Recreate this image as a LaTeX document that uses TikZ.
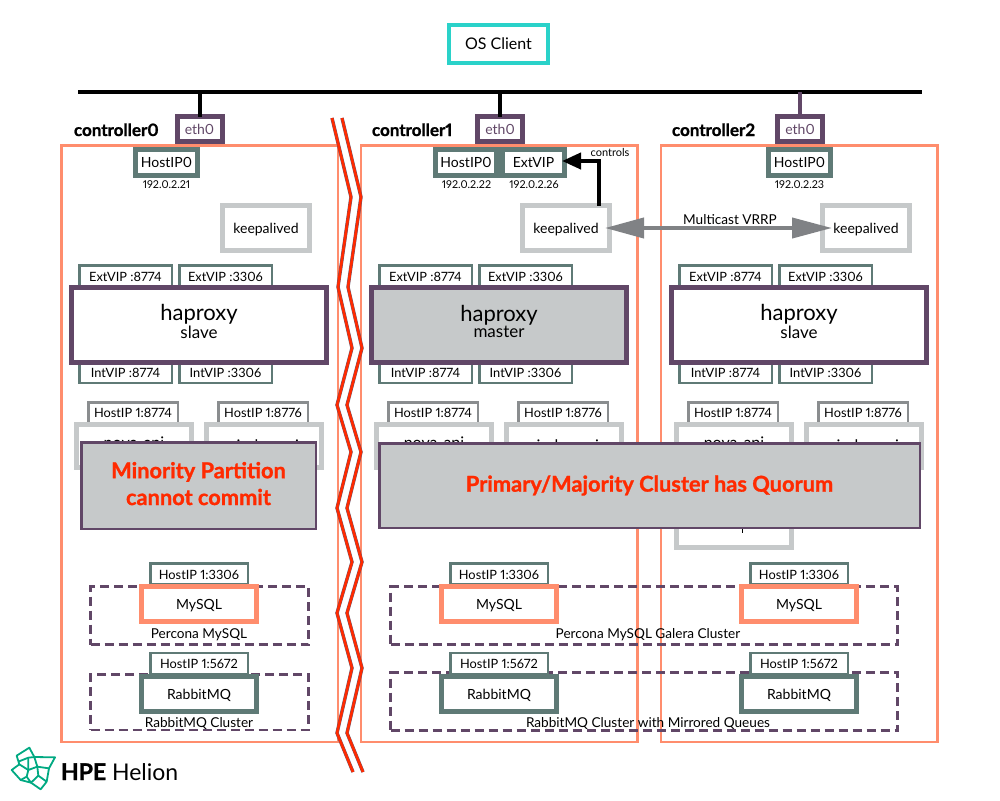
\documentclass[tikz,border=0pt]{standalone}
\usepackage{fontspec}
\setmainfont{Lato}[Numbers=Proportional]
\usetikzlibrary{arrows.meta}
\definecolor{teal}{HTML}{5F7A76}
\definecolor{plum}{HTML}{614767}
\definecolor{salmon}{HTML}{FF8D6D}
\definecolor{lgray}{HTML}{C6C9CA}
\definecolor{mgray}{HTML}{8A8D8F}
\definecolor{agray}{HTML}{808285}
\definecolor{cyanb}{HTML}{2AD2C9}
\definecolor{redt}{HTML}{FF2A00}
\definecolor{logog}{HTML}{01A982}
\newcommand{\fs}[1]{\fontsize{#1}{#1}\selectfont}
\tikzset{
  every node/.style={inner sep=0pt,outer sep=0pt,text=black},
  base/.style={rectangle,fill=white,text height=11pt,text depth=0.5pt},
  ctrl/.style={draw=salmon,line width=2.5pt,minimum width=276.5pt,minimum height=596.5pt},
  ethbox/.style={base,draw=plum,line width=5pt,minimum width=45pt,minimum height=25pt,font=\fs{14},text=plum},
  hostzero/.style={base,draw=teal,line width=5pt,minimum width=62pt,minimum height=26pt,font=\fs{14}},
  keepbox/.style={base,draw=lgray,line width=5pt,minimum width=87pt,minimum height=45pt,font=\fs{14}},
  vipbox/.style={base,draw=teal,line width=2.5pt,minimum width=92.5pt,minimum height=21pt,font=\fs{12.8}},
  hapbox/.style={rectangle,draw=plum,line width=5pt,minimum width=255pt,minimum height=75pt,align=center},
  hostone/.style={base,draw=mgray,line width=2.5pt,minimum width=89.5pt,minimum height=20.5pt,font=\fs{12.8}},
  apibox/.style={rectangle,fill=white,draw=lgray,line width=5pt,minimum width=115pt,minimum height=43pt},
  svcport/.style={base,draw=teal,line width=2.5pt,minimum width=97.5pt,minimum height=21pt,font=\fs{12.8}},
  sqlbox/.style={base,draw=salmon,line width=5pt,minimum width=115pt,minimum height=35pt,font=\fs{14}},
  rabbox/.style={base,draw=teal,line width=5pt,minimum width=115pt,minimum height=35pt,font=\fs{14}},
  dashbox/.style={rectangle,draw=plum,line width=2.5pt,dash pattern=on 9pt off 5pt},
  ctlabel/.style={anchor=base west,font=\fs{17}\bfseries\addfontfeature{FakeBold=1.2}},
  iplabel/.style={font=\fs{10.8}},
  clabel/.style={font=\fs{13.6},text height=11pt,text depth=0.5pt},
  overlay/.style={rectangle,draw=plum,line width=2.5pt,fill=lgray,align=center,font=\fs{21.8}\bfseries\addfontfeature{FakeBold=1.2},text=redt},
  zigc/.style={draw=plum!70!agray,line width=3.4pt,line join=miter},
  zigr/.style={draw=redt,line width=2.6pt,line join=miter},
}
\begin{document}
\begin{tikzpicture}[x=1pt,y=-1pt]
\useasboundingbox (0,0) rectangle (1000,800);
% client and bus
\node[base,draw=cyanb,line width=4pt,minimum width=99pt,minimum height=38pt,font=\fs{16}] (client) at (498.5,44) {OS Client};
\coordinate (busL) at (78,92);
\coordinate (busR) at (922,92);
\draw[line width=4pt] (busL) -- (busR);
% controllers
\foreach \i/\dx/\cx in {0/0/199.5,1/300/499,2/600/799}{
  \node[ctrl] (ctrl\i) at (\cx,443.5) {};
  \node[ctlabel] (ctlabel\i) at ({74+\dx-(\i>0?2:0)},136) {controller\i};
  \node[ethbox] (eth\i) at ({199.5+\dx+(\i==0?0:0.5)},129) {eth0};
  % haproxy listeners
  \node[vipbox] (eva\i) at ({125.5+\dx},276) {ExtVIP :8774};
  \node[vipbox] (evb\i) at ({225.5+\dx},276) {ExtVIP :3306};
  \node[vipbox] (iva\i) at ({125.5+\dx},372.5) {IntVIP :8774};
  \node[vipbox] (ivb\i) at ({225.5+\dx},372.5) {IntVIP :3306};
  % api boxes
  \node[hostone] (hpa\i) at ({133+\dx},412.5) {HostIP 1:8774};
  \node[hostone] (hpb\i) at ({263+\dx},412.5) {HostIP 1:8776};
  \node[apibox] (api\i) at ({134+\dx},446) {};
  \node[apibox] (cin\i) at ({264+\dx},446) {};
  \node[anchor=base,font=\fs{16}] (apit\i) at ({134+\dx},448) {nova-api};
  \node[anchor=base,font=\fs{16}] (cint\i) at ({264+\dx},451) {cinder-api};
}
% third service box, controller2
\node[apibox] (svc2) at (734,526) {};
\draw[line width=1pt] (742,529) -- (742,533);
% cluster dashed boxes
\node[dashbox,minimum width=218pt,minimum height=58pt] (perc0) at (199.5,615.5) {};
\node[dashbox,minimum width=218pt,minimum height=55.5pt] (rabc0) at (199.5,702) {};
\node[dashbox,minimum width=507pt,minimum height=58pt] (perc1) at (644,615.5) {};
\node[dashbox,minimum width=507pt,minimum height=58pt] (rabc1) at (644,701.5) {};
\node[clabel] (percl0) at (199,633) {Percona MySQL};
\node[clabel] (rabl0) at (199,722) {RabbitMQ Cluster};
\node[clabel] (percl1) at (648,633) {Percona MySQL Galera Cluster};
\node[clabel] (rabl1) at (648,722) {RabbitMQ Cluster with Mirrored Queues};
\foreach \n/\x/\fc/\role in {0/199/white/slave,1/499/lgray/master,2/799/white/slave}{
  \node[svcport] (mq\n) at (\x,574) {HostIP 1:3306};
  \node[svcport] (rq\n) at (\x,663.5) {HostIP 1:5672};
  \node[sqlbox] (sql\n) at (\x,604) {MySQL};
  \node[rabbox] (rab\n) at (\x,694) {RabbitMQ};
  \node[hapbox,fill=\fc] (hap\n) at (\x,325) {{\fs{22}haproxy}\\[0pt]{\fs{17}\role\rule[-7pt]{0pt}{1pt}}};
}
% host IPs
\node[hostzero] (hz0) at (166.5,162.5) {HostIP0};
\node[iplabel] (ip0) at (166.5,185) {192.0.2.21};
\node[rectangle,fill=teal,minimum width=133.5pt,minimum height=31pt] (hzg) at (499.75,162.5) {};
\node[base,minimum width=56pt,minimum height=21pt,font=\fs{14}] (hz1) at (466,162.5) {HostIP0};
\node[base,minimum width=57pt,minimum height=21pt,font=\fs{14}] (vip1) at (533.5,162.5) {ExtVIP};
\node[iplabel] (ip1) at (466.5,185) {192.0.2.22};
\node[iplabel] (ip1v) at (534,185) {192.0.2.26};
\node[hostzero] (hz2) at (799.5,162.5) {HostIP0};
\node[iplabel] (ip2) at (799.5,185) {192.0.2.23};
% keepalived
\node[keepbox] (ka0) at (266,228) {keepalived};
\node[keepbox] (ka1) at (566,228) {keepalived};
\node[keepbox] (ka2) at (866,228) {keepalived};
% stubs
\draw[line width=4pt] (eth0.north) -- (eth0.north |- busL);
\draw[line width=4pt] (eth1.north) -- (eth1.north |- busL);
\draw[line width=4pt,draw=plum] (eth2.north) -- (eth2.north |- busL);
% arrows
\draw[line width=4pt,line join=miter,-{Triangle[length=19pt,width=16pt]}] ([xshift=33pt]ka1.north) |- ([yshift=1.5pt]vip1.east);
\node[font=\fs{11}] (ctl) at (610,152) {controls};
\draw[line width=4pt,draw=agray,fill=agray,{Triangle[length=39pt,width=20pt]}-{Triangle[length=40pt,width=20pt]},shorten <=-4.5pt,shorten >=-9.5pt] (ka1.east) -- (ka2.west);
\node[clabel] (mc) at (730,219) {Multicast VRRP};
% overlays
\node[overlay,minimum width=234.5pt,minimum height=86.5pt] (ov0) at (198.5,485.5) {Minority Partition\\[5pt]cannot commit\rule[-4pt]{0pt}{1pt}};
\node[overlay,minimum width=540.5pt,minimum height=84.5pt] (ov1) at (649.5,485.5) {Primary/Majority Cluster has Quorum};
% partition zigzag
\foreach \s/\t in {zigc/0,zigr/0,zigc/10,zigr/10}{
  \draw[\s,xshift=\t pt] (332,118)--(351,197)--(338,287)--(352,348)--(337,405)--(351,452)--(337,508)--(352,562)--(337,613)--(352,668)--(337,733)--(353,772);
}
% logo
\begin{scope}[shift={(0,735)},x=0.3333pt,y=-0.3333pt,draw=logog,line width=1.8pt,line join=round]
\draw (50,62)--(88,38)--(103,66)--(165,67)--(147,100)--(140,140)--(122,163)--(93,143)--(62,135)--(35,105)--(58,88)--cycle;
\draw (58,88)--(85,105)--(80,125)--(62,135);
\draw (85,105)--(112,95)--(103,66)--(85,68)--(85,105);
\draw (55,80)--(85,68);
\draw (112,95)--(147,100);
\draw (112,95)--(115,122)--(140,140);
\draw (115,122)--(93,143)--(80,125);
\end{scope}
\node[anchor=base west,font=\fs{23}] (logo) at (61,780) {{\bfseries\addfontfeature{FakeBold=1.2}HPE} Helion};
\end{tikzpicture}
\end{document}
